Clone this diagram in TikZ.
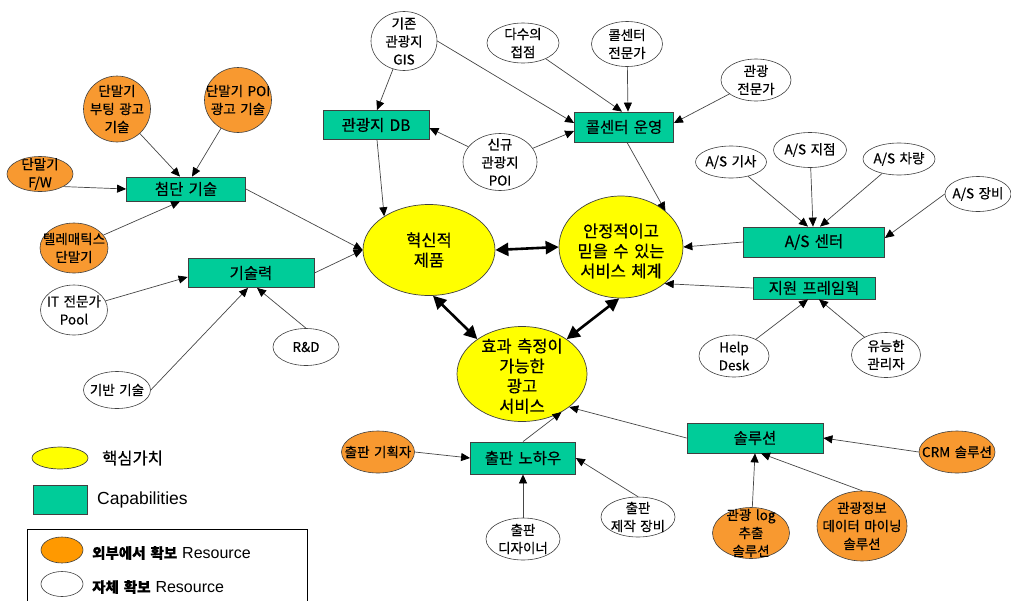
\documentclass[tikz,border=0pt]{standalone}
\usepackage{fontspec}
\setmainfont{Noto Sans CJK KR}[WordSpace=1.5, FakeBold=0.5]
\newfontfamily\latinfont{Liberation Sans}
\usetikzlibrary{arrows.meta,shapes.geometric}

\definecolor{coreyellow}{RGB}{255,255,0}
\definecolor{capgreen}{RGB}{0,204,153}
\definecolor{extorange}{RGB}{248,153,48}
\definecolor{legorange}{RGB}{255,153,0}
\definecolor{edgegray}{RGB}{70,70,70}

\begin{document}
\begin{tikzpicture}[x=1pt,y=-1pt,
  core/.style={ellipse, draw=black!75, line width=0.7pt, fill=coreyellow, inner sep=0pt},
  capbox/.style={rectangle, draw=black!75, line width=0.8pt, fill=capgreen, inner sep=0pt,
                 font=\fontsize{15.5}{19}\selectfont},
  extres/.style={ellipse, draw=black!75, line width=0.6pt, fill=extorange, inner sep=0pt},
  ownres/.style={ellipse, draw=black!75, line width=0.6pt, fill=white, inner sep=0pt},
  corelbl/.style={align=center, inner sep=0pt, font=\fontsize{16.5}{20}\selectfont},
  reslbl/.style={align=center, inner sep=0pt, font=\fontsize{13.5}{18}\selectfont},
  legtxt/.style={anchor=west, inner sep=0pt},
  conn/.style={draw=edgegray, line width=0.7pt, -{Triangle[length=9pt,width=8pt,color=black]}},
  dbl/.style={draw=black, line width=2.6pt,
              {Triangle[length=13pt,width=13pt]}-{Triangle[length=13pt,width=13pt]}}
]
\useasboundingbox (0,0) rectangle (1011,600);

% ---- core values ----
\node[core, minimum width=132pt, minimum height=91pt,
      label={[corelbl]center:혁신적\\제품}] (hyuksin) at (429,250) {};
\node[core, minimum width=124pt, minimum height=102pt,
      label={[corelbl, yshift=-4pt]center:안정적이고\\믿을 수 있는\\서비스 체계}] (anjeong) at (621,247) {};
\node[core, minimum width=130pt, minimum height=95pt,
      label={[corelbl, yshift=-2pt]center:효과 측정이\\가능한\\광고\\서비스}] (hyogwa) at (522,374) {};

% ---- capabilities ----
\node[capbox, minimum width=119pt, minimum height=24pt] (cheomdan) at (186,189) {첨단 기술};
\node[capbox, minimum width=126pt, minimum height=29pt] (gisul) at (251,273) {기술력};
\node[capbox, minimum width=106pt, minimum height=29pt] (db) at (376,125) {관광지 DB};
\node[capbox, minimum width=99pt, minimum height=30pt] (call) at (624,127) {콜센터 운영};
\node[capbox, minimum width=141pt, minimum height=30pt] (ascenter) at (814,242) {A/S 센터};
\node[capbox, minimum width=122pt, minimum height=22pt] (jiwon) at (814,288) {지원 프레임웍};
\node[capbox, minimum width=105pt, minimum height=32pt] (chulpan) at (523,458) {출판 노하우};
\node[capbox, minimum width=136pt, minimum height=30pt] (sol) at (755,438) {솔루션};

% ---- resources secured outside ----
\node[extres, minimum width=67pt, minimum height=66pt,
      label={[reslbl]center:단말기\\부팅 광고\\기술}] (boot) at (117,109) {};
\node[extres, minimum width=67pt, minimum height=65pt,
      label={[reslbl]center:단말기 POI\\광고 기술}] (tpoi) at (238,100) {};
\node[extres, minimum width=66pt, minimum height=35pt,
      label={[reslbl]center:단말기\\F/W}] (fw) at (40,174) {};
\node[extres, minimum width=68pt, minimum height=50pt,
      label={[reslbl]center:텔레매틱스\\단말기}] (tele) at (74,248) {};
\node[extres, minimum width=73pt, minimum height=42pt,
      label={[reslbl]center:출판 기획자}] (planner) at (378,452) {};
\node[extres, minimum width=77pt, minimum height=51pt,
      label={[reslbl]center:관광 log\\추출\\솔루션}] (logsol) at (751,533) {};
\node[extres, minimum width=90pt, minimum height=70pt,
      label={[reslbl]center:관광정보\\데이터 마이닝\\솔루션}] (mining) at (862,526) {};
\node[extres, minimum width=76pt, minimum height=42pt,
      label={[reslbl]center:CRM 솔루션}] (crm) at (957,452) {};

% ---- resources secured in-house ----
\node[ownres, minimum width=66pt, minimum height=59pt,
      label={[reslbl]center:기존\\관광지\\GIS}] (gis) at (404,41) {};
\node[ownres, minimum width=72pt, minimum height=40pt,
      label={[reslbl]center:다수의\\접점}] (contact) at (523,43) {};
\node[ownres, minimum width=71pt, minimum height=45pt,
      label={[reslbl]center:콜센터\\전문가}] (callexp) at (627,44) {};
\node[ownres, minimum width=70pt, minimum height=42pt,
      label={[reslbl]center:관광\\전문가}] (tourexp) at (756,80) {};
\node[ownres, minimum width=74pt, minimum height=57pt,
      label={[reslbl]center:신규\\관광지\\POI}] (newpoi) at (500,162) {};
\node[ownres, minimum width=71pt, minimum height=32pt,
      label={[reslbl]center:A/S 기사}] (asgisa) at (731,162) {};
\node[ownres, minimum width=73pt, minimum height=35pt,
      label={[reslbl]center:A/S 지점}] (asjijeom) at (810,150) {};
\node[ownres, minimum width=72pt, minimum height=32pt,
      label={[reslbl]center:A/S 차량}] (ascha) at (899,159) {};
\node[ownres, minimum width=66pt, minimum height=35pt,
      label={[reslbl]center:A/S 장비}] (asequip) at (978,194) {};
\node[ownres, minimum width=70pt, minimum height=42pt,
      label={[reslbl]center:Help\\Desk}] (helpdesk) at (734,356) {};
\node[ownres, minimum width=69pt, minimum height=45pt,
      label={[reslbl]center:유능한\\관리자}] (manager) at (886,355) {};
\node[ownres, minimum width=67pt, minimum height=50pt,
      label={[reslbl]center:IT 전문가\\Pool}] (itpool) at (74,310) {};
\node[ownres, minimum width=66pt, minimum height=37pt,
      label={[reslbl]center:R\&D}] (rnd) at (306,347) {};
\node[ownres, minimum width=67pt, minimum height=37pt,
      label={[reslbl]center:기반 기술}] (base) at (117,390) {};
\node[ownres, minimum width=74pt, minimum height=42pt,
      label={[reslbl]center:출판\\디자이너}] (designer) at (523,539) {};
\node[ownres, minimum width=74pt, minimum height=40pt,
      label={[reslbl]center:출판\\제작 장비}] (equip) at (638,517) {};

% ---- connectors: resources -> capabilities ----
\draw[conn] (boot) -- ([xshift=-6pt]cheomdan.north);
\draw[conn] (tpoi) -- ([xshift=6pt]cheomdan.north);
\draw[conn] (fw.south east) -- (cheomdan.west);
\draw[conn] (tele) -- ([xshift=-6pt]cheomdan.south);
\draw[conn] (itpool) -- ([yshift=-4pt]gisul.west);
\draw[conn] (base.east) -- ([xshift=-3pt]gisul.south);
\draw[conn] (rnd.north) -- ([xshift=6pt]gisul.south);
\draw[conn] (gis) -- ([xshift=1pt]db.north);
\draw[conn] (gis.east) -- ([yshift=4pt]call.west);
\draw[conn] (newpoi) -- ([yshift=-3pt]db.east);
\draw[conn] (newpoi) -- ([yshift=-4pt]call.west);
\draw[conn] (contact) -- ([xshift=-2pt]call.north);
\draw[conn] (callexp) -- ([xshift=4pt]call.north);
\draw[conn] (tourexp) -- ([yshift=4pt]call.east);
\draw[conn] (asgisa) -- ([xshift=-6pt]ascenter.north);
\draw[conn] (asjijeom) -- ([xshift=-1pt]ascenter.north);
\draw[conn] (ascha) -- ([xshift=6pt]ascenter.north);
\draw[conn] (asequip.west) -- ([yshift=4pt]ascenter.east);
\draw[conn] (helpdesk) -- ([xshift=-6pt]jiwon.south);
\draw[conn] (manager) -- ([xshift=5pt]jiwon.south);
\draw[conn] (planner.east) -- (chulpan.west);
\draw[conn] (designer) -- (chulpan.south);
\draw[conn] (equip.north) -- (chulpan.east);
\draw[conn] (crm.west) -- (sol.east);
\draw[conn] (logsol) -- (sol.south);
\draw[conn] (mining.north) -- ([xshift=6pt]sol.south);

% ---- connectors: capabilities -> core values ----
\draw[conn] (cheomdan.east) -- (hyuksin.west);
\draw[conn] (gisul.east) -- (hyuksin.west);
\draw[conn] ([xshift=1pt]db.south) -- (hyuksin.143);
\draw[conn] ([xshift=3pt]call.south) -- (anjeong.39);
\draw[conn] (ascenter.west) -- (anjeong.east);
\draw[conn] (jiwon.west) -- (anjeong.-40);
\draw[conn] (chulpan.north) -- (hyogwa.-44);
\draw[conn] (sol.west) -- (hyogwa.-35);

% ---- links between core values ----
\draw[dbl] (hyuksin.east) -- (anjeong.west);
\draw[dbl] (hyuksin.-85) -- (hyogwa.142);
\draw[dbl] (anjeong.-92) -- (hyogwa.38);

% ---- legend ----
\node[core, minimum width=56pt, minimum height=22pt] (lgcore) at (60,458) {};
\node[legtxt, font=\fontsize{16.5}{20}\selectfont] (lgcoretxt) at (102,458) {핵심가치};
\node[capbox, minimum width=54pt, minimum height=29pt] (lgcap) at (60,500) {};
\node[legtxt, font=\fontsize{17.5}{20}\latinfont] (lgcaptxt) at (97,500) {Capabilities};
\draw[black, line width=0.8pt] (27,601) |- (307,529) -- (307,601);
\node[ellipse, draw=black!75, line width=0.6pt, fill=legorange, inner sep=0pt,
      minimum width=42pt, minimum height=26pt] (lgext) at (62,550) {};
\node[legtxt, font=\fontsize{14.5}{18}\selectfont] (lgexttxt) at (92,553)
      {\bfseries 외부에서 확보 {\mdseries\latinfont\fontsize{16}{18}\selectfont Resource}};
\node[ownres, minimum width=42pt, minimum height=25pt] (lgown) at (62,584) {};
\node[legtxt, font=\fontsize{14.5}{18}\selectfont] (lgowntxt) at (92,587)
      {\bfseries 자체 확보 {\mdseries\latinfont\fontsize{16}{18}\selectfont Resource}};
\end{tikzpicture}
\end{document}
